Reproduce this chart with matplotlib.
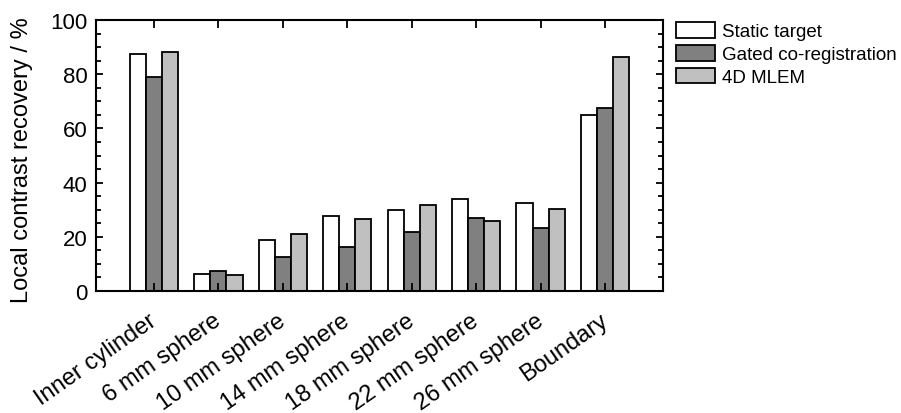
import matplotlib
matplotlib.use("Agg")
import matplotlib.pyplot as plt
import matplotlib.transforms as mtransforms
import numpy as np
from matplotlib.ticker import MultipleLocator

plt.rcParams['font.family'] = ['Liberation Sans', 'DejaVu Sans']

categories = ["Inner cylinder", "6 mm sphere", "10 mm sphere", "14 mm sphere",
              "18 mm sphere", "22 mm sphere", "26 mm sphere", "Boundary"]
static_target = [87.5, 6.4, 19.0, 27.6, 29.8, 34.1, 32.3, 65.0]
gated_coreg = [78.8, 7.2, 12.4, 16.4, 21.7, 27.1, 23.2, 67.4]
mlem_4d = [88.3, 6.0, 20.9, 26.4, 31.8, 26.0, 30.1, 86.3]
series_names = ["Static target", "Gated co-registration", "4D MLEM"]
series_colors = ["#ffffff", "#808080", "#c0c0c0"]

fig = plt.figure(figsize=(9.01, 4.14), dpi=100)
ax = fig.add_axes([96 / 901, 1 - 292 / 414, (663 - 96) / 901, (292 - 21) / 414])

x = np.arange(len(categories))
width = 0.25
handles = []
for i, (vals, name, col) in enumerate(zip([static_target, gated_coreg, mlem_4d],
                                          series_names, series_colors)):
    h = ax.bar(x + (i - 1) * width, vals, width, color=col, edgecolor="black",
               linewidth=1.3, label=name)
    handles.append(h)

ax.set_xlim(-0.9, 7.9)
ax.set_ylim(0, 100)
ax.set_xticks(x)
ax.yaxis.set_major_locator(MultipleLocator(20))
ax.yaxis.set_minor_locator(MultipleLocator(5))
ax.tick_params(axis="x", which="major", direction="in", top=True, bottom=True,
               length=6, width=1.3, pad=13)
ax.tick_params(axis="y", which="major", direction="in", left=True, right=True,
               length=5, width=1.3, labelsize=16, pad=6)
ax.tick_params(axis="y", which="minor", direction="in", left=True, right=True,
               length=3.5, width=1.3)
for s in ax.spines.values():
    s.set_linewidth(1.5)

ax.set_xticklabels(categories, rotation=35, ha="right", va="top",
                   rotation_mode="anchor", fontsize=17)
shift = mtransforms.ScaledTranslation(-6 / 100, 0, fig.dpi_scale_trans)
for lbl in ax.get_xticklabels():
    lbl.set_transform(lbl.get_transform() + shift)

ax.set_ylabel("Local contrast recovery / %", fontsize=17)
ax.yaxis.set_label_coords(-0.111, 0.485)

fig.legend(handles=handles, labels=series_names, loc="upper left",
           bbox_to_anchor=(676 / 901, 1 - 23 / 414), frameon=False,
           fontsize=13.5, handlelength=2.1, handleheight=0.9,
           handletextpad=0.35, labelspacing=0.25, borderpad=0, borderaxespad=0)

fig.savefig("out.png", dpi=100)
